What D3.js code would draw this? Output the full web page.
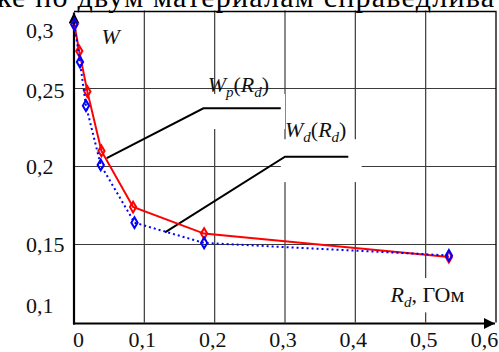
<!DOCTYPE html>
<html>
<head>
<meta charset="utf-8">
<script src="https://cdn.jsdelivr.net/npm/d3@7"></script>
<style>
  body { margin: 0; background: #fff; }
  .grid line { stroke: #3a3a3a; stroke-width: 1.2; }
</style>
</head>
<body>
<svg id="chart" width="499" height="352"></svg>
<script>
// values
const rdP = [0.0005, 0.0075, 0.019, 0.039, 0.084, 0.185, 0.533];
const wP  = [0.291, 0.274, 0.248, 0.210, 0.174, 0.157, 0.142];
const rdD = [0.0005, 0.0085, 0.017, 0.038, 0.086, 0.185, 0.533];
const wD  = [0.291, 0.267, 0.239, 0.201, 0.164, 0.151, 0.143];
const xTicks = [0, 0.1, 0.2, 0.3, 0.4, 0.5, 0.6];
const yTicks = [0.1, 0.15, 0.2, 0.25, 0.3];

const serif = "'Liberation Serif'";
const svg = d3.select('#chart');
const x = d3.scaleLinear().domain([0, 0.6]).range([74, 496]);
const y = d3.scaleLinear().domain([0.1, 0.3]).range([322.5, 10.5]);
const comma = d => d3.format('.2~f')(d).replace('.', ',');

// clipped line of page text above the figure
svg.append('text')
    .attr('x', -3).attr('y', 7)
    .attr('textLength', 497).attr('lengthAdjust', 'spacing')
    .style('font-family', serif)
    .style('font-size', '30px')
    .text('ке по двум материалам справедлива');

// grid
const grid = svg.append('g').attr('class', 'grid');
grid.selectAll('line.v').data(xTicks.slice(1, -1)).enter().append('line')
    .attr('x1', d => x(d)).attr('x2', d => x(d))
    .attr('y1', y(0.3)).attr('y2', y(0.1));
grid.selectAll('line.h').data(yTicks.slice(1, -1)).enter().append('line')
    .attr('x1', x(0)).attr('x2', x(0.6))
    .attr('y1', d => y(d)).attr('y2', d => y(d));

// frame top + right
svg.append('path')
    .attr('d', 'M' + x(0) + ',' + (y(0.3) + 1) + 'H' + x(0.6) + 'V' + y(0.1))
    .attr('fill', 'none').attr('stroke', '#000').attr('stroke-width', 1.3);

// white boxes behind labels (they cut the grid)
const boxes = [
  [0.169, 0.3, 0.2465, 0.2240],   // Wp
  [0.294, 0.409, 0.2175, 0.1900], // Wd
  [0.442, 0.580, 0.1285, 0.1065]  // Rd
];
svg.selectAll('rect.box').data(boxes).enter().append('rect')
    .attr('x', d => x(d[0])).attr('width', d => x(d[1]) - x(d[0]))
    .attr('y', d => y(d[2])).attr('height', d => y(d[3]) - y(d[2]))
    .attr('fill', '#fff');

// axes with arrows
svg.append('defs').append('marker')
    .attr('id', 'arr').attr('viewBox', '0 0 10 10')
    .attr('refX', 10).attr('refY', 5)
    .attr('markerWidth', 5).attr('markerHeight', 5)
    .attr('markerUnits', 'strokeWidth')
    .attr('orient', 'auto')
  .append('path').attr('d', 'M0,0L10,5L0,10Z').attr('fill', '#000');

svg.append('line')
    .attr('x1', x(0)).attr('x2', x(0))
    .attr('y1', y(0.1) + 2).attr('y2', y(0.3) + 2)
    .attr('stroke', '#000').attr('stroke-width', 2.2)
    .attr('marker-end', 'url(#arr)');
svg.append('line')
    .attr('x1', x(0) - 1).attr('x2', x(0.6) - 1)
    .attr('y1', y(0.1) + 1).attr('y2', y(0.1) + 1)
    .attr('stroke', '#000').attr('stroke-width', 2.2)
    .attr('marker-end', 'url(#arr)');

// tick labels
const xAxis = svg.append('g')
    .attr('transform', 'translate(0,' + y(0.1) + ')')
    .call(d3.axisBottom(x).tickValues(xTicks).tickSize(0).tickFormat(comma));
xAxis.select('.domain').remove();
xAxis.selectAll('.tick text')
    .style('font-family', serif).style('font-size', '22px')
    .attr('fill', '#111')
    .attr('y', 0).attr('dy', 24.5)
    .attr('dx', d => d === 0 ? 4 : d === 0.6 ? -12 : -2.5);

const yAxis = svg.append('g')
    .attr('transform', 'translate(' + x(0) + ',0)')
    .call(d3.axisLeft(y).tickValues(yTicks).tickSize(0).tickFormat(comma));
yAxis.select('.domain').remove();
yAxis.selectAll('.tick text')
    .style('font-family', serif).style('font-size', '22px')
    .attr('fill', '#111')
    .attr('x', -48).attr('text-anchor', 'start')
    .attr('dy', d => d === 0.3 ? 27 : d === 0.1 ? -10.5 : d === 0.25 ? 9 : 6.5);

// leader lines
const leaderP = [[0.0465, 0.2054], [0.184, 0.2373], [0.294, 0.2373]];
const leaderD = [[0.1294, 0.1578], [0.300, 0.2063], [0.390, 0.2063]];
const lead = d3.line().x(d => x(d[0])).y(d => y(d[1]));
[leaderP, leaderD].forEach(l => {
  svg.append('path').attr('d', lead(l))
      .attr('fill', 'none').attr('stroke', '#000').attr('stroke-width', 2);
});

// series
const red = rdP.map((r, i) => [r, wP[i]]);
const blue = rdD.map((r, i) => [r, wD[i]]);
const line = d3.line().x(d => x(d[0])).y(d => y(d[1]));
const diamond = d3.symbol().type(d3.symbolDiamond).size(34);

svg.append('path').attr('d', line(red))
    .attr('fill', 'none').attr('stroke', '#f00').attr('stroke-width', 2);
svg.selectAll('path.mp').data(red).enter().append('path')
    .attr('transform', d => 'translate(' + x(d[0]) + ',' + y(d[1]) + ')')
    .attr('d', diamond).attr('fill', 'none')
    .attr('stroke', '#f00').attr('stroke-width', 2);

svg.append('path').attr('d', line(blue))
    .attr('fill', 'none').attr('stroke', '#00f').attr('stroke-width', 2)
    .attr('stroke-dasharray', '2,3');
svg.selectAll('path.md').data(blue).enter().append('path')
    .attr('transform', d => 'translate(' + x(d[0]) + ',' + y(d[1]) + ')')
    .attr('d', diamond).attr('fill', 'none')
    .attr('stroke', '#00f').attr('stroke-width', 2);

// labels
function label(px, py, parts) {
  const t = svg.append('text').attr('x', x(px)).attr('y', y(py))
      .style('font-family', serif)
      .style('font-size', '22px').attr('fill', '#111');
  parts.forEach(p => {
    t.append('tspan')
        .style('font-style', p[1] ? 'italic' : 'normal')
        .style('font-size', p[2] ? '15px' : '22px')
        .attr('dy', p[3] || 0)
        .text(p[0]);
  });
  return t;
}
label(0.039, 0.2786, [['W', 1]]);
label(0.190, 0.2475, [['W', 1], ['p', 1, 1, 5], ['(', 0, 0, -5], ['R', 1], ['d', 1, 1, 5], [')', 0, 0, -5]]);
label(0.300, 0.2191, [['W', 1], ['d', 1, 1, 5], ['(', 0, 0, -5], ['R', 1], ['d', 1, 1, 5], [')', 0, 0, -5]]);
label(0.450, 0.1131, [['R', 1], ['d', 1, 1, 5], [', ГОм', 0, 0, -5]]);
</script>
</body>
</html>
